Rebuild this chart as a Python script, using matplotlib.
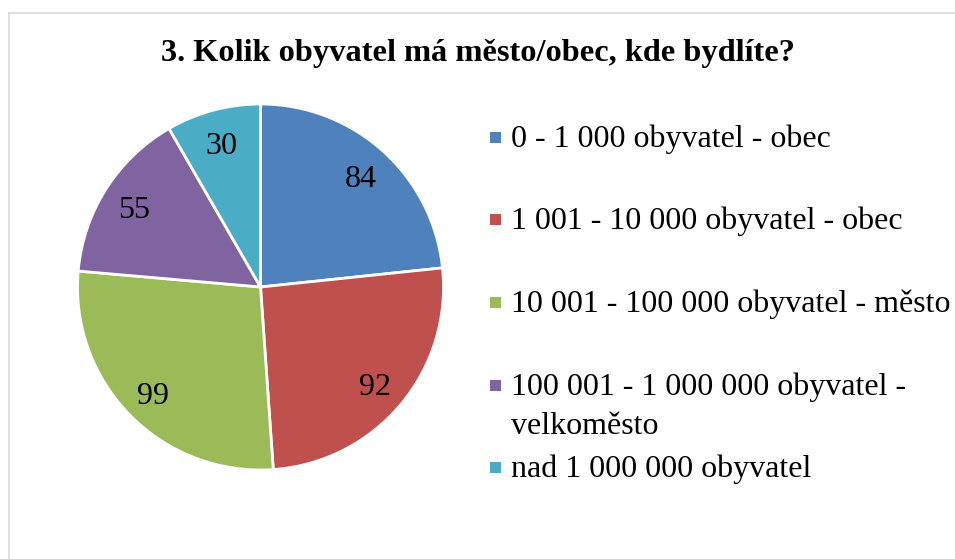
import matplotlib
matplotlib.use("Agg")
import matplotlib.pyplot as plt
from matplotlib.patches import Rectangle
from matplotlib.lines import Line2D
from matplotlib.transforms import offset_copy

categories = ["0 - 1 000 obyvatel - obec",
              "1 001 - 10 000 obyvatel - obec",
              "10 001 - 100 000 obyvatel - město",
              "100 001 - 1 000 000 obyvatel -\nvelkoměsto",
              "nad 1 000 000 obyvatel"]
values = [84, 92, 99, 55, 30]
colors = ["#4F81BD", "#C0504D", "#9BBB59", "#8064A2", "#4BACC6"]
title = "3. Kolik obyvatel má město/obec, kde bydlíte?"

W, H = 955, 559
plt.rcParams['font.family'] = ['Liberation Serif', 'DejaVu Serif']
fig = plt.figure(figsize=(W / 100, H / 100), dpi=100)

# border (top and left visible)
bx, by = 8.5 / W, 1 - 12.5 / H
fig.add_artist(Line2D([bx, bx], [-0.05, by], transform=fig.transFigure,
                      color="#D9D9D9", linewidth=1.2))
fig.add_artist(Line2D([bx, 1.05], [by, by], transform=fig.transFigure,
                      color="#D9D9D9", linewidth=1.2))

cx, cy, r = 260.5, 287, 183
ax = fig.add_axes([(cx - r) / W, (H - cy - r) / H, 2 * r / W, 2 * r / H])
wedges, texts = ax.pie(values, colors=colors, startangle=90, counterclock=False,
                       radius=1, labels=[str(v) for v in values], labeldistance=0.82,
                       wedgeprops=dict(edgecolor="white", linewidth=2.0),
                       textprops=dict(fontsize=23, color="black"))
for t in texts:
    t.set_ha("center")
    t.set_va("center")
    t.set_transform(offset_copy(ax.transData, fig=fig, x=0, y=-4.5, units="dots"))
ax.set_xlim(-1, 1)
ax.set_ylim(-1, 1)
ax.set_aspect("equal")
ax.axis("off")

fig.text(478 / W, 1 - 53 / H, title, ha="center", va="center",
         fontsize=23.3, fontweight="bold")

# legend
ys = [137, 219, 302, 385, 467]
for lab, col, y in zip(categories, colors, ys):
    fig.patches.append(Rectangle((490 / W, 1 - (y + 5.5) / H), 11 / W, 11 / H,
                                 transform=fig.transFigure, facecolor=col,
                                 edgecolor="none"))
    for i, line in enumerate(lab.split("\n")):
        fig.text(511 / W, 1 - (y + 2 + 40 * i) / H, line, ha="left", va="center",
                 fontsize=23)

fig.savefig("out.png", dpi=100)
